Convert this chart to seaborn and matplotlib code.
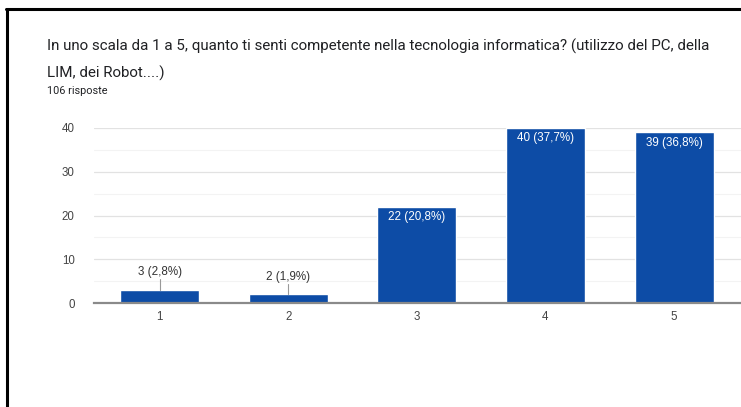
import matplotlib
matplotlib.use('Agg')
import pandas as pd
import seaborn as sns
import matplotlib.pyplot as plt
from matplotlib.lines import Line2D

# dati del grafico
livelli = ['1', '2', '3', '4', '5']
risposte = [3, 2, 22, 40, 39]
percentuali = ['2,8%', '1,9%', '20,8%', '37,7%', '36,8%']
totale = 106

titolo = ('In uno scala da 1 a 5, quanto ti senti competente nella tecnologia informatica? (utilizzo del PC, della\n'
          'LIM, dei Robot....)')
sottotitolo = f'{totale} risposte'

dati = pd.DataFrame({'livello': livelli, 'risposte': risposte})

sns.set_style('white')
plt.rcParams['font.family'] = ['Liberation Sans', 'DejaVu Sans']

fig = plt.figure(figsize=(7.41, 4.07), dpi=100)
ax = fig.add_axes([94 / 741, 1 - 303 / 407, 1 - 94 / 741, 175 / 407])

ax.set_axisbelow(True)
for v in [5, 15, 25, 35]:
    ax.axhline(v, color='#f3f3f3', lw=0.8, zorder=0)
for v in [10, 20, 30, 40]:
    ax.axhline(v, color='#e2e2e2', lw=0.9, zorder=0)

sns.barplot(data=dati, x='livello', y='risposte', color='#0d4ca6', width=0.614,
            saturation=1, ax=ax, zorder=2)

ax.set_xlim(-0.51, 4.52)
ax.set_ylim(0, 40)
ax.set_yticks([0, 10, 20, 30, 40])
ax.tick_params(axis='both', length=0, labelsize=8.3, labelcolor='#444444')
ax.tick_params(axis='y', pad=14)
ax.tick_params(axis='x', pad=6)
ax.set_xlabel('')
ax.set_ylabel('')
for s in ['top', 'right', 'left']:
    ax.spines[s].set_visible(False)
ax.spines['bottom'].set_color('#8a8a8a')
ax.spines['bottom'].set_linewidth(1.6)
ax.spines['bottom'].set_zorder(3)

for i, (n, p) in enumerate(zip(risposte, percentuali)):
    etichetta = f'{n} ({p})'
    if n < 10:
        ax.plot([i, i], [n, n + 2.4], color='#999999', lw=0.8, zorder=3)
        ax.text(i, n + 2.6, etichetta, ha='center', va='bottom', fontsize=8.4,
                color='#333333')
    else:
        ax.text(i, n - 1.0, etichetta, ha='center', va='top', fontsize=8.4,
                color='white', zorder=4)

fig.text(47 / 741, 1 - 39 / 407, titolo, ha='left', va='top', fontsize=10.9,
         family=['Roboto', 'DejaVu Sans'], color='#202124', linespacing=1.95)
fig.text(47 / 741, 1 - 91 / 407, sottotitolo, ha='left', va='center', fontsize=7.8,
         family=['Roboto', 'DejaVu Sans'], color='#202124')

# cornice nera (sinistra e in alto)
fig.add_artist(Line2D([7 / 741, 7 / 741], [0, 1 - 9 / 407], color='black', lw=2.2,
                      transform=fig.transFigure))
fig.add_artist(Line2D([6 / 741, 1], [1 - 9 / 407, 1 - 9 / 407], color='black', lw=2.2,
                      transform=fig.transFigure))

fig.savefig('out.png', dpi=100)
